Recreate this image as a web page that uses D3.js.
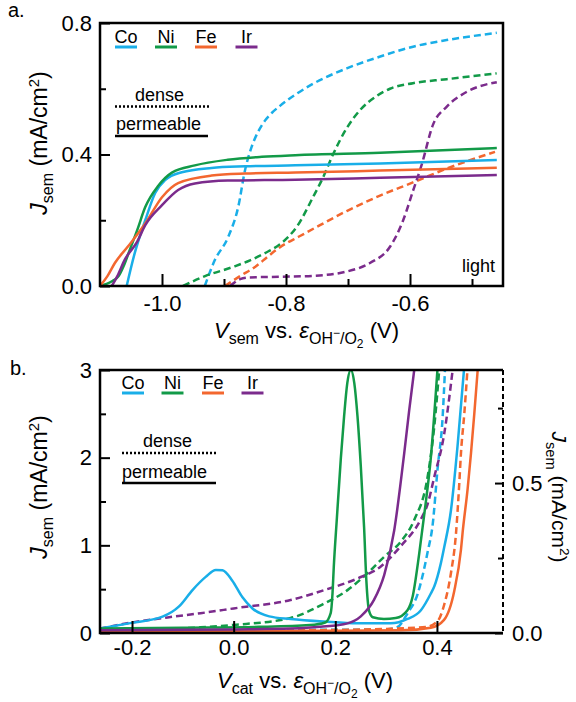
<!DOCTYPE html>
<html>
<head>
<meta charset="utf-8">
<script src="https://cdn.jsdelivr.net/npm/d3@7"></script>
<style>
  body { margin: 0; background: #fff; }
  svg { display: block; }
</style>
</head>
<body>
<svg id="fig" width="576" height="702"></svg>
<script>
// ---------- data ----------
const metals = ["Co", "Ni", "Fe", "Ir"];
const metalColors = ["#19aee8", "#129a48", "#f3672f", "#7b2b8c"];

// Panel a: J_sem vs V_sem under illumination, [V, J (mA/cm2)]
const aPermCo = [[-1.057,0],[-1.044,0.1],[-1.027,0.2],[-1.011,0.283],[-0.995,0.322],[-0.968,0.346],[-0.92,0.359],[-0.866,0.364],[-0.785,0.367],[-0.648,0.373],[-0.46,0.383]];
const aPermNi = [[-1.1,0],[-1.08,0.015],[-1.07,0.03],[-1.062,0.06],[-1.052,0.11],[-1.04,0.17],[-1.027,0.24],[-1.006,0.305],[-0.984,0.345],[-0.947,0.367],[-0.894,0.384],[-0.839,0.393],[-0.785,0.398],[-0.648,0.405],[-0.46,0.42]];
const aPermFe = [[-1.1,0],[-1.088,0.03],[-1.076,0.07],[-1.055,0.12],[-1.027,0.19],[-1.0,0.27],[-0.974,0.313],[-0.92,0.336],[-0.866,0.342],[-0.785,0.345],[-0.648,0.351],[-0.46,0.36]];
const aPermIr = [[-1.081,0],[-1.072,0.03],[-1.06,0.08],[-1.04,0.135],[-1.027,0.185],[-1.0,0.246],[-0.974,0.292],[-0.947,0.312],[-0.894,0.321],[-0.785,0.323],[-0.648,0.329],[-0.46,0.338]];

const aDenseCo = [[-0.931,0],[-0.915,0.078],[-0.893,0.15],[-0.877,0.241],[-0.866,0.353],[-0.8553,0.424],[-0.8447,0.47],[-0.8339,0.503],[-0.8226,0.527],[-0.8097,0.548],[-0.7827,0.585],[-0.7565,0.615],[-0.702,0.662],[-0.648,0.698],[-0.595,0.728],[-0.541,0.748],[-0.46,0.77]];
const aDenseNi = [[-0.9661,0],[-0.9306,0.03],[-0.8855,0.058],[-0.858,0.078],[-0.8339,0.1],[-0.8097,0.127],[-0.7935,0.155],[-0.7827,0.18],[-0.7565,0.27],[-0.7403,0.33],[-0.7242,0.4],[-0.7021,0.48],[-0.6806,0.535],[-0.6537,0.578],[-0.6323,0.6],[-0.5952,0.617],[-0.5408,0.629],[-0.4602,0.647]];
const aDenseFe = [[-0.8984,0],[-0.8742,0.03],[-0.85,0.058],[-0.829,0.09],[-0.8097,0.118],[-0.7774,0.152],[-0.7452,0.185],[-0.7021,0.228],[-0.6484,0.275],[-0.5952,0.315],[-0.5408,0.357],[-0.4871,0.393],[-0.4629,0.408]];
const aDenseIr = [[-0.89,0],[-0.882,0.012],[-0.874,0.021],[-0.86,0.026],[-0.81,0.028],[-0.756,0.031],[-0.702,0.044],[-0.6645,0.07],[-0.632,0.12],[-0.611,0.2],[-0.595,0.29],[-0.581,0.37],[-0.563,0.49],[-0.541,0.545],[-0.509,0.59],[-0.46,0.62]];

// Panel b: J_sem vs V_cat; permeable on left axis, dense on right axis
const bPermCo = [[-0.263,0.05],[-0.206,0.11],[-0.14,0.186],[-0.108,0.3],[-0.081,0.49],[-0.055,0.64],[-0.035,0.72],[-0.022,0.715],[-0.003,0.6],[0.017,0.41],[0.037,0.28],[0.07,0.19],[0.112,0.16],[0.178,0.13],[0.244,0.11],[0.309,0.11],[0.342,0.16],[0.3685,0.26],[0.388,0.45],[0.3947,0.53],[0.4079,0.8],[0.4144,0.98],[0.4276,1.4],[0.4408,2.15],[0.4532,3.0]];
const bPermNi = [[-0.263,0.05],[-0.1,0.06],[0.05,0.07],[0.15,0.09],[0.18,0.12],[0.1911,0.23],[0.1945,0.45],[0.197,0.75],[0.203,1.3],[0.211,2.0],[0.2173,2.47],[0.2236,2.85],[0.2305,3.0],[0.2374,2.85],[0.2437,2.47],[0.2502,1.9],[0.2567,1.2],[0.2611,0.6],[0.2666,0.25],[0.2739,0.18],[0.2956,0.16],[0.319,0.17],[0.342,0.26],[0.352,0.41],[0.365,0.9],[0.375,1.35],[0.388,2.0],[0.401,3.0]];
const bPermFe = [[-0.263,0.02],[0.2,0.025],[0.33,0.03],[0.388,0.06],[0.414,0.15],[0.4341,0.48],[0.4473,0.95],[0.4506,1.15],[0.4605,1.65],[0.467,2.05],[0.4735,2.5],[0.4802,3.0]];
const bPermIr = [[-0.263,0.03],[0.0,0.04],[0.112,0.05],[0.171,0.07],[0.224,0.11],[0.2502,0.19],[0.2764,0.38],[0.2962,0.66],[0.3159,1.17],[0.3356,2.05],[0.3454,2.54],[0.3553,3.0]];

const bDenseCo = [[-0.263,0.008],[0.1,0.01],[0.3,0.012],[0.3226,0.02],[0.3423,0.066],[0.362,0.13],[0.3817,0.27],[0.3915,0.36],[0.4014,0.55],[0.4112,0.72],[0.4158,0.877]];
const bDenseNi = [[-0.263,0.008],[-0.065,0.019],[0.0,0.027],[0.112,0.05],[0.178,0.098],[0.224,0.143],[0.263,0.199],[0.296,0.254],[0.329,0.305],[0.3553,0.377],[0.3817,0.521],[0.3947,0.688],[0.4045,0.877]];
const bDenseFe = [[-0.263,0.005],[0.2,0.01],[0.378,0.02],[0.4014,0.04],[0.4144,0.095],[0.4276,0.2],[0.4374,0.33],[0.444,0.5],[0.4473,0.6],[0.4538,0.73],[0.46,0.877]];
const bDenseIr = [[-0.263,0.015],[-0.2,0.035],[-0.13,0.052],[-0.065,0.066],[0.0,0.082],[0.112,0.11],[0.178,0.143],[0.244,0.182],[0.289,0.221],[0.329,0.29],[0.3685,0.38],[0.3817,0.43],[0.3947,0.52],[0.4144,0.665],[0.4309,0.877]];

// axis domains and ticks
const aXDomain = [-1.1, -0.45];
const aYDomain = [0, 0.8];
const aXMajor = [-1.0, -0.8, -0.6];
const aXMinor = [-0.9, -0.7, -0.5];
const aYMajor = [0, 0.4, 0.8];
const aYMinor = [0.2, 0.6];

const bXDomain = [-0.263, 0.53];
const bYDomain = [0, 3];
const bY2Domain = [0, 0.877];
const bXMajor = [-0.2, 0, 0.2, 0.4];
const bYMajor = [0, 1, 2, 3];
const bYMinor = [0.5, 1.5, 2.5];
const bY2Major = [0, 0.5];
const bY2Minor = [0.25, 0.75];

// ---------- drawing ----------
const FONT = "'Liberation Sans', Arial, Helvetica, sans-serif";
const svg = d3.select("#fig").attr("font-family", FONT);
svg.append("rect").attr("width", 576).attr("height", 702).attr("fill", "#fff");

const L = 100, R = 503;
const A = { top: 23, bottom: 286 };
const B = { top: 370, bottom: 633 };

const xa = d3.scaleLinear().domain(aXDomain).range([L, R]);
const ya = d3.scaleLinear().domain(aYDomain).range([A.bottom, A.top]);
const xb = d3.scaleLinear().domain(bXDomain).range([L, R]);
const yb = d3.scaleLinear().domain(bYDomain).range([B.bottom, B.top]);
const yb2 = d3.scaleLinear().domain(bY2Domain).range([B.bottom, B.top]);

const defs = svg.append("defs");
defs.append("clipPath").attr("id", "clipA").append("rect")
  .attr("x", L).attr("y", A.top).attr("width", R - L).attr("height", A.bottom - A.top);
defs.append("clipPath").attr("id", "clipB").append("rect")
  .attr("x", L).attr("y", B.top).attr("width", R - L).attr("height", B.bottom - B.top);

const DASH = "7,4";
const LW = 2.5;

function drawCurves(g, series, xs, ys, dashed) {
  const line = d3.line().x(d => xs(d[0])).y(d => ys(d[1])).curve(d3.curveMonotoneX);
  series.forEach((s, i) => {
    g.append("path").datum(s)
      .attr("d", line)
      .attr("fill", "none")
      .attr("stroke", metalColors[i])
      .attr("stroke-width", LW)
      .attr("stroke-linejoin", "round")
      .attr("stroke-dasharray", dashed ? DASH : null);
  });
}

// panel a curves
const gA = svg.append("g").attr("clip-path", "url(#clipA)");
drawCurves(gA, [aDenseCo, aDenseNi, aDenseFe, aDenseIr], xa, ya, true);
drawCurves(gA, [aPermCo, aPermNi, aPermFe, aPermIr], xa, ya, false);

// panel b curves
const gB = svg.append("g").attr("clip-path", "url(#clipB)");
drawCurves(gB, [bDenseCo, bDenseNi, bDenseFe, bDenseIr], xb, yb2, true);
drawCurves(gB, [bPermCo, bPermNi, bPermFe, bPermIr], xb, yb, false);

// axes
function styleAxis(g) {
  g.attr("font-family", FONT).attr("font-size", 22);
  g.select(".domain").remove();
  g.selectAll(".tick line").attr("stroke", "#000").attr("stroke-width", 2);
  g.selectAll(".tick text").attr("fill", "#000");
}
const f1 = v => v.toFixed(1);
const f0 = v => v.toFixed(0);

function bottomAxis(y, xs, major, minor, fmt, pad) {
  svg.append("g").attr("transform", `translate(0,${y})`)
    .call(d3.axisBottom(xs).tickValues(major).tickSize(-12).tickPadding(pad).tickFormat(fmt))
    .call(styleAxis);
  if (minor) svg.append("g").attr("transform", `translate(0,${y})`)
    .call(d3.axisBottom(xs).tickValues(minor).tickSize(-7).tickFormat(""))
    .call(styleAxis);
}
function leftAxis(ys, major, minor, fmt) {
  svg.append("g").attr("transform", `translate(${L},0)`)
    .call(d3.axisLeft(ys).tickValues(major).tickSize(-10).tickPadding(8).tickFormat(fmt))
    .call(styleAxis);
  svg.append("g").attr("transform", `translate(${L},0)`)
    .call(d3.axisLeft(ys).tickValues(minor).tickSize(-6).tickFormat(""))
    .call(styleAxis);
}

bottomAxis(A.bottom, xa, aXMajor, aXMinor, f1, 9);
leftAxis(ya, aYMajor, aYMinor, f1);
bottomAxis(B.bottom, xb, bXMajor, null, f1, 6);
leftAxis(yb, bYMajor, bYMinor, f0);

// right axis of panel b
svg.append("g").attr("transform", `translate(${R},0)`)
  .call(d3.axisRight(yb2).tickValues(bY2Major).tickSize(-8).tickPadding(9).tickFormat(f1))
  .call(styleAxis);
svg.append("g").attr("transform", `translate(${R},0)`)
  .call(d3.axisRight(yb2).tickValues(bY2Minor).tickSize(-5).tickFormat(""))
  .call(styleAxis);

// frames
const frameW = 2.5;
svg.append("path")
  .attr("d", `M${L},${A.bottom}V${A.top}H${R}V${A.bottom}Z`)
  .attr("fill", "none").attr("stroke", "#000").attr("stroke-width", frameW);
svg.append("path")
  .attr("d", `M${R},${B.top}H${L}V${B.bottom}H${R}`)
  .attr("fill", "none").attr("stroke", "#000").attr("stroke-width", frameW);
svg.append("line")
  .attr("x1", R).attr("x2", R).attr("y1", B.top).attr("y2", B.bottom)
  .attr("stroke", "#000").attr("stroke-width", 2).attr("stroke-dasharray", "5,3");

// axis titles
function yTitle(x, y, rot, size) {
  const t = svg.append("text")
    .attr("transform", `translate(${x},${y}) rotate(${rot})`)
    .attr("text-anchor", "middle").attr("font-size", size).attr("fill", "#000");
  t.append("tspan").attr("font-style", "italic").text("J");
  t.append("tspan").attr("dy", 6).attr("font-size", size * 0.7).text("sem");
  t.append("tspan").attr("dy", -6).text(" (mA/cm");
  t.append("tspan").attr("dy", -8).attr("font-size", size * 0.65).text("2");
  t.append("tspan").attr("dy", 8).text(")");
}
function xTitle(x, y, sub) {
  const t = svg.append("text").attr("x", x).attr("y", y)
    .attr("font-size", 22).attr("fill", "#000");
  t.append("tspan").attr("font-style", "italic").text("V");
  t.append("tspan").attr("dy", 6).attr("font-size", 16).text(sub);
  t.append("tspan").attr("dy", -6).text(" vs. ");
  t.append("tspan").attr("font-style", "italic").text("ε");
  t.append("tspan").attr("dy", 6).attr("font-size", 16).text("OH");
  t.append("tspan").attr("dy", -7).attr("font-size", 12).text("−");
  t.append("tspan").attr("dy", 7).attr("font-size", 16).text("/O");
  t.append("tspan").attr("dy", 4).attr("font-size", 12).text("2");
  t.append("tspan").attr("dy", -10).text(" (V)");
}
yTitle(47, 143, -90, 23);
yTitle(47, 487, -90, 23);
yTitle(552, 497, 90, 21);
xTitle(214, 338, "sem");
xTitle(217, 688, "cat");

// panel letters
svg.append("text").attr("x", 8).attr("y", 17).attr("font-size", 20).text("a.");
svg.append("text").attr("x", 10).attr("y", 375).attr("font-size", 20).text("b.");

// legends
function legend(centers, yText, yLine, denseX, denseY, dotY, dotX1, dotX2, permX, permY, solidY, solidX2) {
  metals.forEach((m, i) => {
    svg.append("text").attr("x", centers[i]).attr("y", yText)
      .attr("text-anchor", "middle").attr("font-size", 18).attr("fill", "#000").text(m);
    svg.append("line")
      .attr("x1", centers[i] - 11).attr("x2", centers[i] + 11)
      .attr("y1", yLine).attr("y2", yLine)
      .attr("stroke", metalColors[i]).attr("stroke-width", 3);
  });
  svg.append("text").attr("x", denseX).attr("y", denseY).attr("font-size", 18).text("dense");
  svg.append("line").attr("x1", dotX1).attr("x2", dotX2).attr("y1", dotY).attr("y2", dotY)
    .attr("stroke", "#000").attr("stroke-width", 2.5).attr("stroke-dasharray", "2,2");
  svg.append("text").attr("x", permX).attr("y", permY).attr("font-size", 18).text("permeable");
  svg.append("line").attr("x1", dotX1).attr("x2", solidX2).attr("y1", solidY).attr("y2", solidY)
    .attr("stroke", "#000").attr("stroke-width", 2.5);
}
legend([126, 166, 206, 246.5], 43, 47, 135, 101, 106.5, 115, 209, 116, 130, 136, 208);
legend([133, 172.5, 213, 252.5], 389, 393, 143, 447, 453, 122, 217, 122, 477.5, 483, 216);

svg.append("text").attr("x", 495).attr("y", 272).attr("text-anchor", "end")
  .attr("font-size", 18).text("light");
</script>
</body>
</html>
